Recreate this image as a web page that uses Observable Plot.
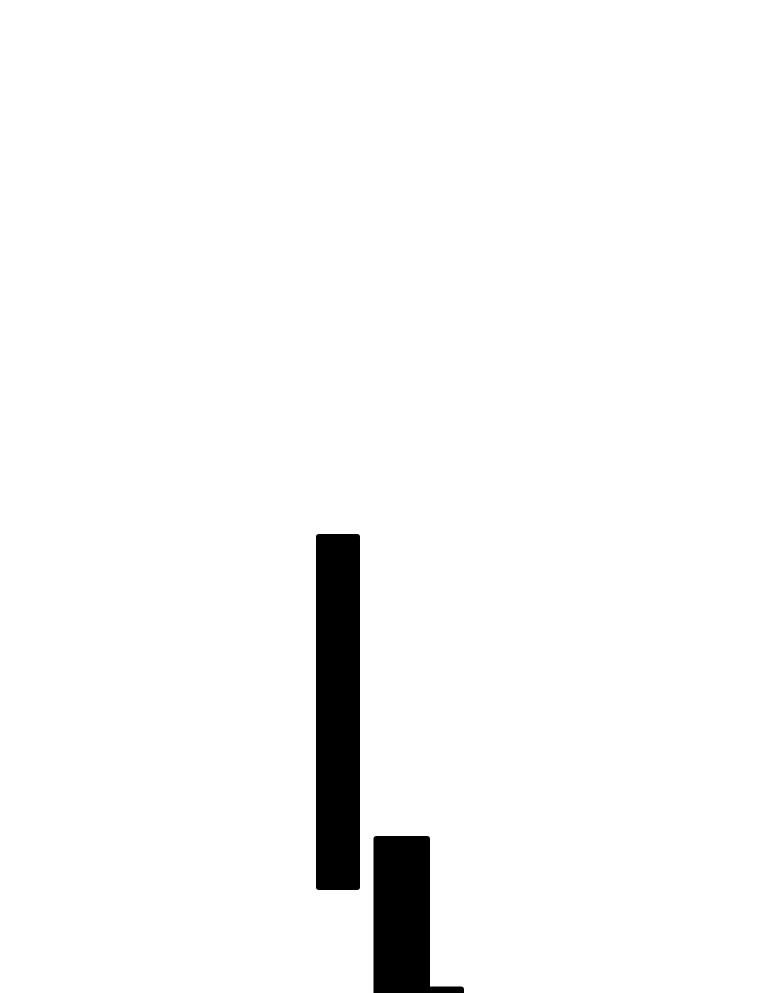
<!DOCTYPE html>
<html>
<head>
<meta charset="utf-8">
<script src="https://cdn.jsdelivr.net/npm/d3@7"></script>
<script src="https://cdn.jsdelivr.net/npm/@observablehq/plot@0.6"></script>
<style>
  html, body { margin: 0; padding: 0; background: #fff; }
  svg { display: block; }
</style>
</head>
<body>
<div id="chart"></div>
<script>
// Bars: horizontal extent and vertical extent (values measured from bottom)
const barNames = ["A", "B", "C"];
const barStart = [316, 373.5, 428];
const barEnd = [360, 430, 464];
const barLow = [103, -40, -40];
const barHigh = [459, 157, 6.5];

const bars = barNames.map((name, i) => ({
  name,
  x1: barStart[i],
  x2: barEnd[i],
  y1: barLow[i],
  y2: barHigh[i]
}));

const chart = Plot.plot({
  width: 760,
  height: 993,
  margin: 0,
  x: { domain: [0, 760], axis: null },
  y: { domain: [0, 993], axis: null },
  marks: [
    Plot.rect(bars, {
      x1: "x1", x2: "x2", y1: "y1", y2: "y2",
      fill: "black",
      rx: 3,
      clip: true
    })
  ]
});
document.getElementById("chart").append(chart);
</script>
</body>
</html>
